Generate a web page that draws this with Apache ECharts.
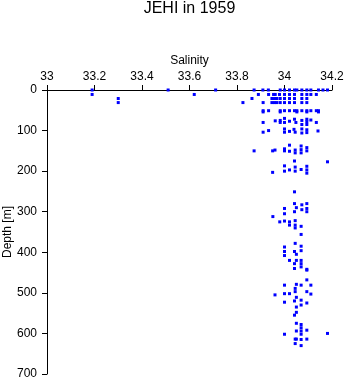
<!DOCTYPE html>
<html>
<head>
<meta charset="utf-8">
<script src="https://cdn.jsdelivr.net/npm/echarts@6/dist/echarts.min.js"></script>
<style>html,body{margin:0;padding:0;background:#fff;}#c{width:346px;height:384px;}</style>
</head>
<body>
<div id="c"></div>
<script>
var titleText = "JEHI in 1959";
var xName = "Salinity";
var yName = "Depth [m]";
var xTicks = [33, 33.2, 33.4, 33.6, 33.8, 34, 34.2];
var yTicks = [0, 100, 200, 300, 400, 500, 600, 700];

// Surface to 50 m
var salShallow = [33.19,33.51,33.71,33.872,33.909,33.932,33.982,34.0,34.021,34.042,34.052,34.073,34.094,34.111,34.143,34.162,34.181,
  33.19,33.62,33.89,33.933,33.954,33.961,33.979,34.0,34.021,34.042,34.073,34.094,34.111,34.134,
  33.30,33.863,33.947,33.958,33.968,33.982,34.0,34.021,34.042,34.073,34.094,
  33.30,33.825,33.91,33.947,33.958,33.968,33.982,34.0,34.021,34.042,34.073,34.094,
  33.91,33.933,33.982,34.0,34.021,34.042,34.052,34.073,34.094,34.111,34.134,34.143,
  33.91,33.982,34.052,34.094,34.143];
var depthShallow = [0,0,0,0,0,0,0,0,0,0,0,0,0,0,0,0,0,
  11,11,11,11,11,11,11,11,11,11,11,11,11,11,
  21,21,21,21,21,21,21,21,21,21,21,
  31,31,31,31,31,31,31,31,31,31,31,31,
  51,51,51,51,51,51,51,51,51,51,51,51,
  54,54,54,54,54];

// 70 m to 210 m
var salMid = [33.91,33.961,33.982,33.982,34.0,34.0,34.021,34.042,34.048,34.073,34.073,34.094,34.094,34.094,34.111,34.134,
  33.91,33.933,34.0,34.0,34.021,34.04,34.045,34.073,34.073,34.094,34.094,34.141,
  33.872,33.95,33.96,34.0,34.0,34.021,34.021,34.045,34.045,34.07,34.07,34.07,34.094,34.094,
  34.042,34.181,33.95,34.0,34.0,34.021,34.045,34.045,34.07,34.094,34.094,34.094];
var depthMid = [80,76,75,80,70,80,77,72,80,75,85,72,78,85,74,80,
  104,100,96,104,102,97,104,96,106,98,105,101,
  150,150,148,145,150,151,136,148,155,138,147,155,142,150,
  175,177,203,187,200,197,190,200,196,188,197,205];

// 250 m to 450 m
var salDeep = [34.042,34.042,34.042,34.05,34.073,34.073,34.094,34.094,34.094,34.0,34.0,
  33.951,33.98,34.0,34.021,34.021,34.045,34.045,34.045,34.07,34.07,
  34.045,34.0,34.0,34.0,34.042,34.05,34.07,34.07,
  34.021,34.042,34.042,34.07,34.07,34.07,34.094,34.05];
var depthDeep = [251,280,300,290,283,295,280,292,300,292,305,
  312,325,323,325,333,322,333,340,336,356,
  378,387,398,408,398,405,385,396,
  420,428,440,420,428,436,442,420];

// 460 m to 640 m
var salBottom = [34.094,34.094,34.0,34.05,34.07,34.111,34.045,34.045,34.094,34.111,33.96,34.0,34.021,34.05,
  34.0,34.042,34.07,34.07,34.094,34.05,34.05,34.042,
  34.05,34.07,34.07,34.05,34.07,34.07,34.094,34.0,34.181,
  34.045,34.045,34.05,34.07,34.07,34.094];
var depthBottom = [444,468,481,479,481,481,489,497,497,503,505,502,502,511,
  523,520,518,530,525,535,548,555,
  575,578,586,594,594,602,592,602,600,
  614,625,614,615,630,614];

function pairs(s, d) { return s.map(function (v, i) { return [v, d[i]]; }); }
var points = [].concat(pairs(salShallow, depthShallow), pairs(salMid, depthMid),
  pairs(salDeep, depthDeep), pairs(salBottom, depthBottom));

var FONT = '"Liberation Sans", Arial, Helvetica, sans-serif';
var chart = echarts.init(document.getElementById('c'));
chart.setOption({
  animation: false,
  backgroundColor: '#ffffff',
  title: {
    text: titleText, left: 189.5, textAlign: 'center', top: 1, padding: 0,
    textStyle: { fontFamily: FONT, fontSize: 16, fontWeight: 'normal', color: '#000' }
  },
  grid: { left: 47, top: 90, right: 14, bottom: 10, containLabel: false, outerBoundsMode: 'none' },
  xAxis: {
    type: 'value', position: 'top', min: 33, max: 34.2, interval: 0.2,
    name: xName, nameLocation: 'middle', nameGap: 23, nameMoveOverlap: false,
    nameTextStyle: { fontFamily: FONT, fontSize: 12, color: '#000' },
    axisLine: { show: true, lineStyle: { color: '#000', width: 1 } },
    axisTick: { show: true, length: 5, lineStyle: { color: '#000' } },
    axisLabel: { fontFamily: FONT, fontSize: 12, color: '#000', margin: 7,
      formatter: function (v) { return String(Math.round(v * 10) / 10); } },
    splitLine: { show: false }
  },
  yAxis: {
    type: 'value', inverse: true, min: 0, max: 700, interval: 100,
    name: yName, nameLocation: 'middle', nameGap: 33, nameRotate: 90, nameMoveOverlap: false,
    nameTextStyle: { fontFamily: FONT, fontSize: 12, color: '#000' },
    axisLine: { show: true, lineStyle: { color: '#000', width: 1 } },
    axisTick: { show: true, length: 5, lineStyle: { color: '#000' } },
    axisLabel: { fontFamily: FONT, fontSize: 12, color: '#000', margin: 10 },
    splitLine: { show: false }
  },
  series: [{
    type: 'scatter', data: points, symbol: 'rect', symbolSize: [3, 3],
    itemStyle: { color: '#0000ff', opacity: 1 }
  }]
});
</script>
</body>
</html>
